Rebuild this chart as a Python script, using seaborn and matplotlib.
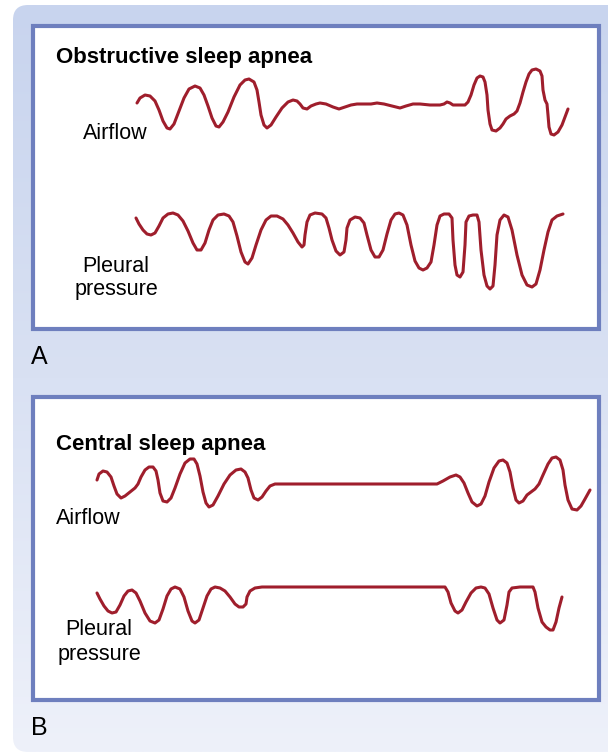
import numpy as np
import matplotlib
matplotlib.use("Agg")
import matplotlib.pyplot as plt
from matplotlib.patches import FancyBboxPatch, Rectangle
from matplotlib.colors import LinearSegmentedColormap
import seaborn as sns

# traces (x = time position, y = signal level, screen pixels)
airflow_a_x = [137, 140, 145, 150, 155, 159, 163, 167, 170, 174, 179, 184, 189, 195, 200, 204, 208, 212, 216, 219,
               223, 228, 234, 240, 245, 249, 254, 257, 259, 261, 264, 267, 271, 276, 282, 288, 293, 297, 300, 303,
               307, 311, 316, 320, 326, 333, 339, 345, 351, 357, 364, 371, 377, 384, 392, 400, 406, 413, 420, 430,
               440, 444, 447, 450, 453, 458, 465, 468, 471, 474, 477, 480, 483, 485, 487, 488, 490, 492, 496, 500,
               503, 506, 510, 514, 517, 520, 523, 526, 529, 532, 536, 540, 542, 543, 545, 547, 548, 549, 551, 554,
               558, 562, 565, 568]
airflow_a_y = [103, 98, 95, 96, 101, 110, 121, 128, 129, 124, 111, 98, 89, 86, 88, 95, 106, 118, 126, 127,
               122, 112, 97, 85, 80, 79, 82, 90, 102, 115, 125, 128, 125, 117, 108, 102, 100, 101, 104, 108,
               109, 106, 104, 103, 104, 107, 109, 107, 105, 104, 104, 104, 103, 104, 106, 108, 106, 104, 104, 105,
               105, 104, 102, 103, 105, 105, 105, 102, 95, 85, 78, 76, 77, 82, 95, 110, 124, 130, 131, 128,
               124, 119, 116, 114, 111, 103, 92, 82, 74, 70, 69, 71, 76, 90, 100, 104, 115, 127, 134, 135,
               132, 125, 117, 109]

pleural_a_x = [136, 139, 143, 147, 151, 155, 159, 163, 168, 173, 178, 183, 188, 193, 197, 201, 205, 209, 213, 218,
               224, 229, 233, 237, 241, 245, 248, 252, 256, 261, 266, 271, 277, 283, 288, 293, 298, 302, 304, 305,
               307, 310, 315, 322, 326, 329, 332, 336, 340, 344, 346, 347, 350, 355, 360, 364, 367, 371, 375, 379,
               383, 387, 391, 395, 399, 403, 407, 411, 415, 419, 423, 427, 431, 434, 437, 440, 444, 449, 452, 453,
               455, 457, 460, 463, 465, 466, 469, 473, 477, 479, 481, 484, 487, 490, 493, 495, 497, 500, 504, 508,
               512, 517, 522, 527, 532, 536, 540, 544, 548, 552, 557, 563]
pleural_a_y = [218, 224, 230, 234, 235, 233, 226, 218, 214, 213, 215, 221, 231, 243, 250, 250, 243, 230, 220, 215,
               214, 216, 222, 236, 252, 262, 264, 258, 245, 230, 220, 216, 216, 219, 225, 233, 242, 247, 245, 235,
               222, 215, 213, 214, 218, 228, 240, 251, 255, 252, 240, 228, 220, 217, 218, 223, 235, 250, 257, 257,
               250, 234, 220, 214, 213, 215, 225, 245, 261, 268, 270, 268, 262, 245, 225, 216, 214, 214, 218, 240,
               265, 275, 277, 272, 245, 222, 216, 215, 215, 222, 250, 275, 286, 289, 286, 265, 235, 220, 215, 217,
               230, 255, 275, 285, 287, 284, 270, 250, 232, 220, 216, 214]

airflow_b_x = [97, 99, 103, 107, 111, 114, 117, 121, 125, 130, 135, 138, 141, 145, 149, 153, 156, 158, 160, 163,
               167, 171, 175, 180, 185, 190, 194, 197, 200, 203, 206, 209, 213, 218, 224, 230, 236, 241, 245, 248,
               251, 254, 258, 262, 266, 270, 275, 437, 443, 450, 456, 460, 464, 468, 472, 477, 481, 485, 489, 494,
               499, 503, 507, 510, 513, 516, 519, 523, 527, 531, 535, 539, 543, 548, 552, 556, 560, 563, 565, 568,
               572, 577, 581, 585, 590]
airflow_b_y = [480, 474, 471, 472, 477, 486, 494, 498, 496, 492, 488, 484, 477, 470, 467, 467, 471, 480, 493, 501,
               502, 498, 488, 474, 463, 459, 459, 464, 476, 492, 503, 507, 505, 496, 484, 475, 470, 469, 472, 478,
               490, 498, 500, 497, 491, 486, 484, 484, 481, 477, 475, 477, 483, 493, 502, 506, 504, 496, 482, 468,
               461, 460, 463, 472, 488, 500, 503, 501, 495, 492, 489, 484, 475, 464, 458, 457, 460, 470, 485, 500,
               509, 510, 506, 499, 490]

pleural_b_x = [97, 100, 104, 108, 112, 116, 120, 124, 128, 132, 136, 140, 145, 150, 155, 159, 163, 167, 171, 175,
               180, 184, 188, 192, 195, 199, 203, 207, 211, 215, 220, 225, 230, 235, 239, 243, 246, 247, 250, 255,
               262, 445, 448, 451, 455, 458, 462, 466, 471, 476, 481, 485, 489, 493, 497, 500, 504, 507, 509, 512,
               520, 533, 535, 538, 542, 546, 550, 553, 556, 559, 562]
pleural_b_y = [593, 599, 606, 611, 613, 612, 605, 596, 591, 590, 593, 601, 613, 621, 623, 620, 609, 596, 589, 587,
               589, 597, 611, 621, 623, 620, 608, 596, 589, 587, 588, 591, 597, 604, 607, 607, 604, 597, 591, 588,
               587, 587, 592, 603, 611, 613, 610, 602, 593, 588, 587, 588, 594, 608, 620, 623, 620, 605, 592, 588,
               587, 587, 592, 608, 622, 627, 630, 630, 622, 608, 597]

panel_titles = ["Obstructive sleep apnea", "Central sleep apnea"]
panel_letters = ["A", "B"]

W, H = 608, 753
trace_color = "#9f1e2c"
border_color = "#6e7fbe"

sns.set_style("white")
plt.rcParams["font.family"] = ["Liberation Sans", "DejaVu Sans"]
plt.rcParams["text.color"] = "black"

fig = plt.figure(figsize=(W / 100, H / 100), dpi=100)
ax = fig.add_axes([0, 0, 1, 1])

# light blue rounded background with vertical gradient
bg = FancyBboxPatch((13, 5), W + 20 - 13, 747, boxstyle="round,pad=0,rounding_size=15",
                    facecolor="none", edgecolor="none")
ax.add_patch(bg)
cmap = LinearSegmentedColormap.from_list("bg", ["#c8d4ee", "#d9e1f3", "#eef1fa"])
grad = np.linspace(0, 1, 256).reshape(-1, 1)
im = ax.imshow(grad, extent=[13, W + 20, 752, 5], aspect="auto", cmap=cmap, zorder=0)
im.set_clip_path(bg)

# the two white framed panels
for top in [26, 397]:
    ax.add_patch(Rectangle((33, top), 566, 303, facecolor="white", edgecolor=border_color,
                           linewidth=3, zorder=1))

traces = [(airflow_a_x, airflow_a_y), (pleural_a_x, pleural_a_y),
          (airflow_b_x, airflow_b_y), (pleural_b_x, pleural_b_y)]
for tx, ty in traces:
    sns.lineplot(x=tx, y=ty, sort=False, estimator=None, color=trace_color, linewidth=2.2,
                 solid_joinstyle="round", solid_capstyle="round", ax=ax, zorder=3)
ax.set_xlim(0, W)
ax.set_ylim(H, 0)
ax.axis("off")

fs = 15.5
ax.text(56, 63, panel_titles[0], fontsize=16, fontweight="bold", va="baseline", ha="left")
ax.text(56, 450, panel_titles[1], fontsize=16, fontweight="bold", va="baseline", ha="left")

ax.text(115, 139, "Airflow", fontsize=fs, va="baseline", ha="center")
ax.text(116, 272, "Pleural", fontsize=fs, va="baseline", ha="center")
ax.text(116, 295, "pressure", fontsize=fs, va="baseline", ha="center")

ax.text(88, 524, "Airflow", fontsize=fs, va="baseline", ha="center")
ax.text(99, 635, "Pleural", fontsize=fs, va="baseline", ha="center")
ax.text(99, 660, "pressure", fontsize=fs, va="baseline", ha="center")

ax.text(31, 364, panel_letters[0], fontsize=18, va="baseline", ha="left")
ax.text(31, 735, panel_letters[1], fontsize=18, va="baseline", ha="left")

fig.savefig("out.png", dpi=100)
